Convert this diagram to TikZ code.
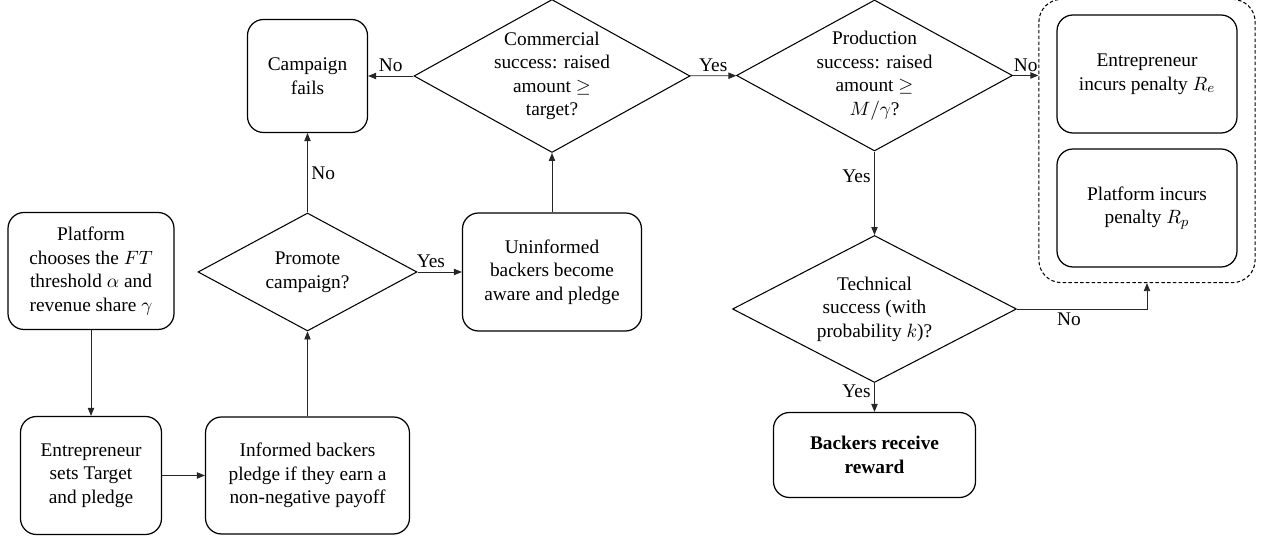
\documentclass[tikz,border=0pt]{standalone}
\usepackage{amsmath}
\usepackage{fontspec}
\setmainfont{Liberation Serif}
\usetikzlibrary{shapes.geometric,arrows.meta,fit}

\begin{document}
\begin{tikzpicture}[
      font=\fontsize{11}{13.4}\selectfont,
      box/.style={draw=black, line width=0.7pt, rounded corners=0.32cm, align=center, inner sep=2pt},
      decision/.style={diamond, draw=black, line width=0.6pt, align=center, inner sep=-1cm},
      flow/.style={draw=black!85, line width=0.45pt, -{Triangle[length=4.5pt,width=3.6pt]}},
      lbl/.style={inner sep=2pt},
      scale=1
    ]
    \useasboundingbox (0,0) rectangle (25.3,-10.78);

    % Left column
    \node[box, minimum width=3.32cm, minimum height=2.34cm] (plat) at (1.82,-5.42) {Platform\\chooses the $FT$\\threshold $\alpha$ and\\revenue share $\gamma$};
    \node[box, minimum width=2.82cm, minimum height=2.36cm] (entr) at (1.82,-9.51) {Entrepreneur\\sets Target\\and pledge};

    % Informed backers and promotion
    \node[box, minimum width=4.08cm, minimum height=2.34cm] (inf) at (6.15,-9.51) {Informed backers\\pledge if they earn a\\non-negative payoff};
    \node[decision, minimum width=4.38cm, minimum height=2.36cm] (promote) at (6.15,-5.44) {Promote\\campaign?};
    \node[box, minimum width=2.40cm, minimum height=2.26cm] (fails) at (6.15,-1.52) {Campaign\\fails};

    % Commercial success
    \node[box, minimum width=3.58cm, minimum height=2.36cm] (uninf) at (11.04,-5.44) {Uninformed\\backers become\\aware and pledge};
    \node[decision, minimum width=5.52cm, minimum height=3.06cm] (comm) at (11.04,-1.52) {Commercial\\success: raised\\amount $\geq$\\target?};

    % Production and technical success
    \node[decision, minimum width=5.52cm, minimum height=3.02cm] (prod) at (17.49,-1.51) {Production\\success: raised\\amount $\geq$\\$M/\gamma$?};
    \node[decision, minimum width=5.68cm, minimum height=2.94cm] (tech) at (17.49,-6.18) {Technical\\success (with\\probability $k$)?};
    \node[box, minimum width=4.04cm, minimum height=1.70cm] (backers) at (17.49,-9.10) {\textbf{Backers receive}\\\textbf{reward}};

    % Penalties
    \node[box, minimum width=3.60cm, minimum height=2.36cm] (pene) at (22.94,-1.48) {Entrepreneur\\incurs penalty $R_e$};
    \node[box, minimum width=3.60cm, minimum height=2.36cm] (penp) at (22.94,-4.16) {Platform incurs\\penalty $R_p$};
    \node[draw=black, line width=0.6pt, dash pattern=on 2pt off 1.3pt, rounded corners=0.45cm,
          fit=(pene)(penp), inner xsep=0.35cm, inner ysep=0.3cm] (pen) {};

    % Connectors
    \draw[flow] (plat) -- (entr);
    \draw[flow] (entr) -- (inf);
    \draw[flow] (inf) -- (promote);
    \draw[flow] (promote) -- node[lbl, pos=0.3, above] {Yes} (uninf);
    \draw[flow] (promote) -- node[lbl, right] {No} (fails);
    \draw[flow] (uninf) -- (comm);
    \draw[flow] (comm) -- node[lbl, above] {No} (fails);
    \draw[flow] (comm) -- node[lbl, above] {Yes} (prod);
    \draw[flow] (prod.east) -- node[lbl, above] {No} (prod.east -| pen.west);
    \draw[flow] (prod) -- node[lbl, pos=0.3, left] {Yes} (tech);
    \draw[flow] (tech.east) -| node[lbl, pos=0.2, below] {No} (pen.south);
    \draw[flow] (tech) -- node[lbl, pos=0.3, left] {Yes} (backers);
  \end{tikzpicture}
\end{document}
